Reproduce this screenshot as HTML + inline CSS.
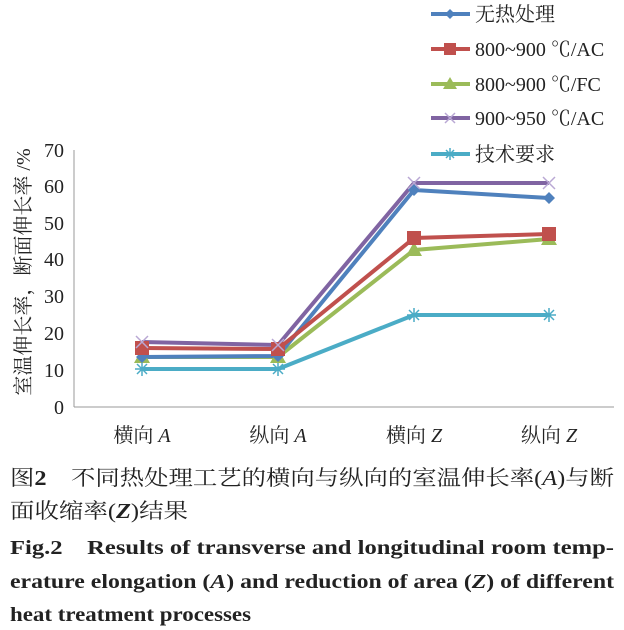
<!DOCTYPE html>
<html><head><meta charset="utf-8"><style>
html,body{margin:0;padding:0;background:#fff;}
svg{display:block;}
.t{font-family:"Liberation Serif","Noto Serif CJK SC",serif;}
</style></head><body>
<svg width="624" height="630" viewBox="0 0 624 630" xmlns="http://www.w3.org/2000/svg" class="t">
<!-- axes -->
<line x1="74" y1="150" x2="74" y2="407" stroke="#999" stroke-width="1"/>
<line x1="74" y1="407" x2="614" y2="407" stroke="#999" stroke-width="1"/>
<g font-size="20" fill="#222" text-anchor="end">
<text x="64" y="414">0</text>
<text x="64" y="377">10</text>
<text x="64" y="340">20</text>
<text x="64" y="303">30</text>
<text x="64" y="266">40</text>
<text x="64" y="230">50</text>
<text x="64" y="193">60</text>
<text x="64" y="157">70</text>
</g>
<text transform="translate(30,272) rotate(-90)" text-anchor="middle" font-size="20" fill="#222">室温伸长率，断面伸长率 /%</text>
<g font-size="20" fill="#222" text-anchor="middle">
<text x="142" y="442">横向 <tspan font-style="italic">A</tspan></text>
<text x="278" y="442">纵向 <tspan font-style="italic">A</tspan></text>
<text x="414" y="442">横向 <tspan font-style="italic">Z</tspan></text>
<text x="549" y="442">纵向 <tspan font-style="italic">Z</tspan></text>
</g>
<!-- series -->
<g fill="none" stroke-width="4" stroke-linejoin="round">
<polyline points="142,369 278,369 414,315 549,315" stroke="#4bacc6"/>
<polyline points="142,357 278,357 414,250 549,239" stroke="#9bbb59"/>
<polyline points="142,357 278,356 414,190 549,198" stroke="#4f81bd"/>
<polyline points="142,348 278,349 414,238 549,234" stroke="#c0504d"/>
<polyline points="142,342 278,345 414,183 549,183" stroke="#8064a2"/>
</g>
<!-- markers -->
<g stroke="#4bacc6" stroke-width="1.5">
<path d="M135,369h14M142,362v14M137,364l10,10M147,364l-10,10M271,369h14M278,362v14M273,364l10,10M283,364l-10,10M407,315h14M414,308v14M409,310l10,10M419,310l-10,10M542,315h14M549,308v14M544,310l10,10M554,310l-10,10"/>
</g>
<g fill="#9bbb59">
<path d="M142,349l8,14h-16z M278,349l8,14h-16z M414,242l8,14h-16z M549,231l8,14h-16z"/>
</g>
<g fill="#4f81bd">
<path d="M142,351l6,6-6,6-6-6z M278,350l6,6-6,6-6-6z M414,184l6,6-6,6-6-6z M549,192l6,6-6,6-6-6z"/>
</g>
<g fill="#c0504d">
<rect x="135" y="341" width="14" height="14"/><rect x="271" y="342" width="14" height="14"/>
<rect x="407" y="231" width="14" height="14"/><rect x="542" y="227" width="14" height="14"/>
</g>
<g stroke="#b9a8d4" stroke-width="1.5">
<path d="M136,336l12,12M148,336l-12,12M272,339l12,12M284,339l-12,12M408,177l12,12M420,177l-12,12M543,177l12,12M555,177l-12,12"/>
</g>
<!-- legend -->
<g stroke-width="4">
<line x1="431" y1="14" x2="470" y2="14" stroke="#4f81bd"/>
<line x1="431" y1="49" x2="470" y2="49" stroke="#c0504d"/>
<line x1="431" y1="84" x2="470" y2="84" stroke="#9bbb59"/>
<line x1="431" y1="118" x2="470" y2="118" stroke="#8064a2"/>
<line x1="431" y1="154" x2="470" y2="154" stroke="#4bacc6"/>
</g>
<path d="M450,9l5,5-5,5-5-5z" fill="#4f81bd"/>
<rect x="444" y="43" width="12" height="12" fill="#c0504d"/>
<path d="M450,77l7,12h-14z" fill="#9bbb59"/>
<path d="M445,113l10,10M455,113l-10,10" stroke="#b9a8d4" stroke-width="1.5"/>
<path d="M444,154h12M450,148v12M446,150l8,8M454,150l-8,8" stroke="#4bacc6" stroke-width="1.5"/>
<g font-size="20" fill="#222">
<text x="475" y="21">无热处理</text>
<text x="475" y="56">800~900 ℃/AC</text>
<text x="475" y="91">800~900 ℃/FC</text>
<text x="475" y="125">900~950 ℃/AC</text>
<text x="475" y="161">技术要求</text>
</g>
<!-- caption -->
<g font-size="21" fill="#222">
<text x="10" y="485" textLength="604" lengthAdjust="spacingAndGlyphs">图<tspan font-weight="bold">2</tspan>　不同热处理工艺的横向与纵向的室温伸长率(<tspan font-style="italic">A</tspan>)与断</text>
<text x="10" y="518" textLength="178" lengthAdjust="spacingAndGlyphs">面收缩率(<tspan font-style="italic" font-weight="bold">Z</tspan>)结果</text>
</g>
<g font-size="20" font-weight="bold" fill="#222">
<text x="10" y="554" textLength="604" lengthAdjust="spacingAndGlyphs">Fig.2　Results of transverse and longitudinal room temp-</text>
<text x="10" y="588" textLength="604" lengthAdjust="spacingAndGlyphs">erature elongation (<tspan font-style="italic">A</tspan>) and reduction of area (<tspan font-style="italic">Z</tspan>) of different</text>
<text x="10" y="621" textLength="241" lengthAdjust="spacingAndGlyphs">heat treatment processes</text>
</g>
</svg>
</body></html>
